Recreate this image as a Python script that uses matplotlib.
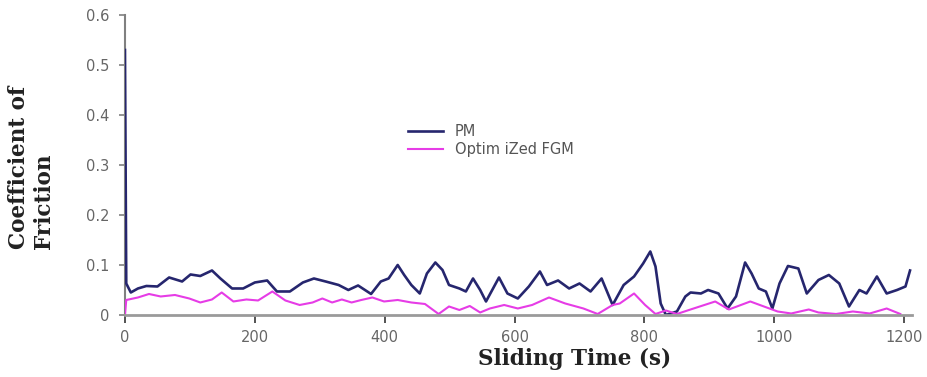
import numpy as np
import matplotlib
matplotlib.use("Agg")
import matplotlib.pyplot as plt

# Sliding time (s) and coefficient of friction
pm_time = [0, 2, 9, 20, 33, 50, 68, 88, 101, 116, 134, 147, 165, 182, 200, 219,
           234, 254, 274, 291, 309, 329, 344, 359, 379, 394, 406, 420, 430, 441,
           454, 465, 478, 489, 499, 515, 525, 536, 547, 556, 576, 589, 605, 622,
           639, 650, 667, 684, 700, 717, 734, 751, 768, 784, 798, 809, 817, 825,
           833, 850, 863, 871, 887, 898, 914, 928, 941, 955, 965, 976, 987, 997,
           1008, 1021, 1037, 1050, 1068, 1084, 1100, 1115, 1131, 1142, 1158,
           1173, 1189, 1202, 1209]
pm_cof = [0.53, 0.063, 0.045, 0.053, 0.058, 0.057, 0.075, 0.067, 0.081, 0.078,
          0.089, 0.073, 0.053, 0.053, 0.065, 0.069, 0.047, 0.047, 0.065, 0.073,
          0.067, 0.060, 0.050, 0.059, 0.042, 0.067, 0.073, 0.100, 0.080, 0.060,
          0.043, 0.083, 0.105, 0.090, 0.060, 0.053, 0.047, 0.073, 0.050, 0.027,
          0.075, 0.043, 0.033, 0.057, 0.087, 0.060, 0.069, 0.053, 0.063, 0.047,
          0.073, 0.020, 0.060, 0.077, 0.103, 0.127, 0.097, 0.023, 0.000, 0.007,
          0.037, 0.045, 0.043, 0.050, 0.043, 0.013, 0.037, 0.105, 0.083, 0.053,
          0.047, 0.013, 0.063, 0.098, 0.093, 0.043, 0.070, 0.080, 0.063, 0.017,
          0.050, 0.043, 0.077, 0.043, 0.050, 0.057, 0.089]

fgm_time = [0, 2, 20, 37, 55, 77, 99, 116, 134, 149, 167, 187, 205, 227, 247,
            269, 289, 304, 319, 334, 349, 364, 381, 399, 420, 441, 462, 483, 499,
            515, 531, 547, 562, 584, 605, 627, 653, 678, 706, 728, 751, 762, 784,
            801, 817, 833, 850, 871, 909, 930, 963, 984, 1005, 1026, 1053, 1068,
            1095, 1121, 1147, 1173, 1194]
fgm_cof = [0.0, 0.030, 0.035, 0.042, 0.037, 0.040, 0.033, 0.025, 0.031, 0.045,
           0.027, 0.031, 0.029, 0.047, 0.029, 0.020, 0.025, 0.033, 0.025, 0.031,
           0.025, 0.030, 0.035, 0.027, 0.030, 0.025, 0.022, 0.002, 0.017, 0.010,
           0.018, 0.005, 0.013, 0.020, 0.013, 0.020, 0.035, 0.023, 0.013, 0.002,
           0.020, 0.023, 0.043, 0.020, 0.002, 0.009, 0.002, 0.011, 0.027, 0.011,
           0.027, 0.017, 0.007, 0.003, 0.011, 0.005, 0.002, 0.007, 0.003, 0.013,
           0.002]

x_ticks = [0, 200, 400, 600, 800, 1000, 1200]
y_ticks = [0, 0.1, 0.2, 0.3, 0.4, 0.5, 0.6]

fig = plt.figure(figsize=(9.27, 3.77), dpi=100)
ax = fig.add_axes([0.1348, 0.1645, 0.849, 0.7957])

ax.plot(pm_time, pm_cof, color='#26266e', lw=1.9, label='PM')
ax.plot(fgm_time, fgm_cof, color='#e63ce6', lw=1.5, label='Optim iZed FGM')

ax.set_xlim(0, 1212)
ax.set_ylim(0, 0.6)
ax.set_xticks(x_ticks)
ax.set_yticks(y_ticks)
ax.set_yticklabels(['0', '0.1', '0.2', '0.3', '0.4', '0.5', '0.6'])

for side in ['top', 'right']:
    ax.spines[side].set_visible(False)
ax.spines['left'].set_color('#808080')
ax.spines['left'].set_linewidth(1.5)
ax.spines['bottom'].set_color('#9a9a9a')
ax.spines['bottom'].set_linewidth(2)
ax.spines['left'].set_zorder(0)

ax.tick_params(axis='x', direction='out', length=6, width=1.3, color='#444444',
               labelcolor='#666666', labelsize=10.5, pad=5)
ax.tick_params(axis='y', direction='out', length=4, width=1.2, color='#808080',
               labelcolor='#666666', labelsize=10.5, pad=7)

ax.set_xlabel('Sliding Time (s)', family='DejaVu Serif', fontweight='bold',
              fontsize=15.5, color='#222222')
ax.xaxis.set_label_coords(0.571, -0.11)
ax.set_ylabel('Coefficient of\nFriction', family='DejaVu Serif', fontweight='bold',
              fontsize=15.5, color='#222222', multialignment='left')
ax.yaxis.set_label_coords(-0.089, 0.493)

ax.legend(loc='upper left', bbox_to_anchor=(408 / 927, 1 - 124 / 377),
          bbox_transform=fig.transFigure, frameon=False, fontsize=10.5,
          handlelength=2.4, handletextpad=0.8, labelspacing=0.2,
          borderpad=0, borderaxespad=0, labelcolor='#555555')

fig.savefig('out.png', dpi=100)
